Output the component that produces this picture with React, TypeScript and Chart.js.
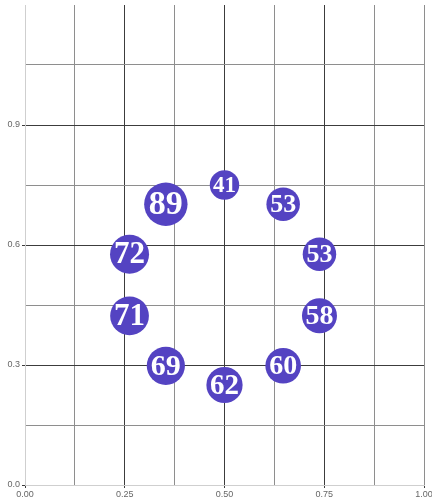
import React, { useEffect, useRef } from "react";
import { Chart, registerables } from "chart.js";

Chart.register(...registerables);

const labels = ["41", "89", "72", "71", "69", "62", "60", "58", "53", "53"];
const values = [41, 89, 72, 71, 69, 62, 60, 58, 53, 53];
const xValues = [0.5, 0.353, 0.262, 0.262, 0.353, 0.5, 0.647, 0.738, 0.738, 0.647];
const yValues = [0.75, 0.702, 0.577, 0.423, 0.298, 0.25, 0.298, 0.423, 0.577, 0.702];
const xTickLabels = ["0.00", "0.25", "0.50", "0.75", "1.00"];
const yTickLabels = ["0.0", "0.3", "0.6", "0.9"];

const MAJOR = "#3c3c3c";
const MINOR = "#8e8e8e";
const AXIS = "#cfcfcf";
const BUBBLE = "#5443c2";

const labelPlugin = {
  id: "bubbleLabels",
  afterDatasetsDraw(chart: any) {
    const ctx = chart.ctx;
    const meta = chart.getDatasetMeta(0);
    ctx.save();
    ctx.fillStyle = "#ffffff";
    ctx.textAlign = "center";
    ctx.textBaseline = "middle";
    meta.data.forEach((el: any, i: number) => {
      const r = el.options.radius;
      const size = Math.round(r * 1.58);
      ctx.font = `bold ${size}px "Liberation Serif", "DejaVu Serif", serif`;
      ctx.fillText(labels[i], el.x, el.y + size * 0.04);
    });
    ctx.restore();
  },
};

export default function App() {
  const ref = useRef<HTMLCanvasElement | null>(null);
  useEffect(() => {
    document.body.style.margin = "0";
    const data = values.map((v, i) => ({ x: xValues[i], y: yValues[i], r: 2.3 * Math.sqrt(v) }));
    const chart = new Chart(ref.current as HTMLCanvasElement, {
      type: "bubble",
      data: {
        datasets: [
          {
            data,
            backgroundColor: BUBBLE,
            borderWidth: 0,
            hoverBorderWidth: 0,
          } as any,
        ],
      },
      options: {
        animation: false,
        responsive: false,
        events: [],
        layout: { autoPadding: false, padding: { top: 5, right: 8, left: 0, bottom: 0 } },
        plugins: { legend: { display: false }, tooltip: { enabled: false } },
        scales: {
          x: {
            type: "linear",
            min: 0,
            max: 1,
            ticks: {
              stepSize: 0.125,
              autoSkip: false,
              maxRotation: 0,
              padding: 1,
              color: "#666",
              font: { size: 9, family: "'Liberation Sans', Arial, sans-serif" },
              callback: (_v: any, i: number) => (i % 2 === 0 ? xTickLabels[i / 2] ?? "" : ""),
            },
            grid: {
              color: (c: any) => (c.index === 0 ? "transparent" : c.index === 8 ? MINOR : c.index % 2 === 0 ? MAJOR : MINOR),
              tickColor: (c: any) => (c.index % 2 === 0 ? MAJOR : "transparent"),
              tickLength: 3,
              lineWidth: 1,
            },
            border: { color: AXIS, width: 1 },
            afterFit: (s: any) => {
              s.height = 19;
              s.paddingLeft = 0;
              s.paddingRight = 0;
            },
          },
          y: {
            type: "linear",
            min: 0,
            max: 1.2,
            ticks: {
              stepSize: 0.15,
              autoSkip: false,
              padding: 2,
              color: "#666",
              font: { size: 9, family: "'Liberation Sans', Arial, sans-serif" },
              callback: (_v: any, i: number) => (i % 2 === 0 ? yTickLabels[i / 2] ?? "" : ""),
            },
            grid: {
              color: (c: any) => (c.index === 0 || c.index === 8 ? "transparent" : c.index % 2 === 0 ? MAJOR : MINOR),
              tickColor: (c: any) => (c.index % 2 === 0 && c.index < 8 ? MAJOR : "transparent"),
              tickLength: 3,
              lineWidth: 1,
            },
            border: { color: AXIS, width: 1 },
            afterFit: (s: any) => {
              s.width = 25;
              s.paddingTop = 0;
              s.paddingBottom = 0;
            },
          },
        },
      },
      plugins: [labelPlugin],
    });
    return () => chart.destroy();
  }, []);
  return (
    <div style={{ position: "fixed", left: 0, top: 0, width: 432, height: 504 }}>
      <canvas ref={ref} width={432} height={504} style={{ width: 432, height: 504 }} />
    </div>
  );
}
